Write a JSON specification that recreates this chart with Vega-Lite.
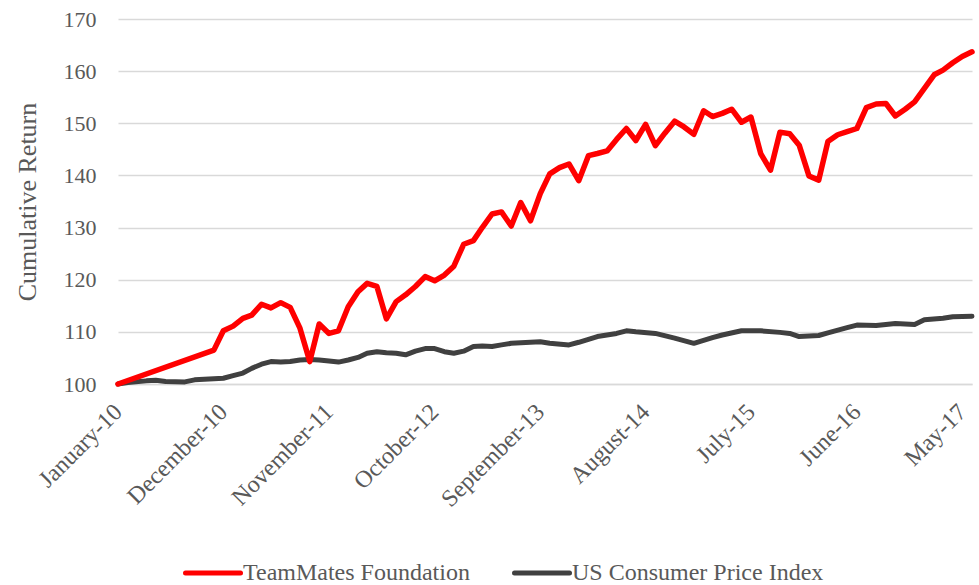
{
  "$schema": "https://vega.github.io/schema/vega-lite/v6.json",
  "width": 854,
  "height": 365,
  "autosize": "none",
  "padding": {"left": 118, "top": 19, "right": 7, "bottom": 201},
  "background": "white",
  "config": {
    "view": {"stroke": null},
    "font": "'Liberation Serif', 'Times New Roman', serif",
    "legend": {"labelFont": "'Liberation Serif', 'Times New Roman', serif", "labelFontSize": 24, "labelColor": "#595959"}
  },
  "datasets": {
    "fund": [
      {"date": "2010-01-01", "value": 100.0},
      {"date": "2010-11-01", "value": 106.5},
      {"date": "2010-12-01", "value": 110.2},
      {"date": "2011-01-01", "value": 111.1},
      {"date": "2011-02-01", "value": 112.6},
      {"date": "2011-03-01", "value": 113.2},
      {"date": "2011-04-01", "value": 115.3},
      {"date": "2011-05-01", "value": 114.6},
      {"date": "2011-06-01", "value": 115.6},
      {"date": "2011-07-01", "value": 114.7},
      {"date": "2011-08-01", "value": 110.7},
      {"date": "2011-09-01", "value": 104.3},
      {"date": "2011-10-01", "value": 111.5},
      {"date": "2011-11-01", "value": 109.7},
      {"date": "2011-12-01", "value": 110.2},
      {"date": "2012-01-01", "value": 114.8},
      {"date": "2012-02-01", "value": 117.7},
      {"date": "2012-03-01", "value": 119.3},
      {"date": "2012-04-01", "value": 118.7},
      {"date": "2012-05-01", "value": 112.5},
      {"date": "2012-06-01", "value": 115.8},
      {"date": "2012-07-01", "value": 117.1},
      {"date": "2012-08-01", "value": 118.7},
      {"date": "2012-09-01", "value": 120.6},
      {"date": "2012-10-01", "value": 119.8},
      {"date": "2012-11-01", "value": 120.9},
      {"date": "2012-12-01", "value": 122.6},
      {"date": "2013-01-01", "value": 126.8},
      {"date": "2013-02-01", "value": 127.5},
      {"date": "2013-03-01", "value": 130.0},
      {"date": "2013-04-01", "value": 132.6},
      {"date": "2013-05-01", "value": 133.0},
      {"date": "2013-06-01", "value": 130.3},
      {"date": "2013-07-01", "value": 134.8},
      {"date": "2013-08-01", "value": 131.3},
      {"date": "2013-09-01", "value": 136.5},
      {"date": "2013-10-01", "value": 140.3},
      {"date": "2013-11-01", "value": 141.5},
      {"date": "2013-12-01", "value": 142.2},
      {"date": "2014-01-01", "value": 139.0},
      {"date": "2014-02-01", "value": 143.8},
      {"date": "2014-03-01", "value": 144.2},
      {"date": "2014-04-01", "value": 144.7},
      {"date": "2014-05-01", "value": 146.9},
      {"date": "2014-06-01", "value": 149.0},
      {"date": "2014-07-01", "value": 146.7},
      {"date": "2014-08-01", "value": 149.8},
      {"date": "2014-09-01", "value": 145.7},
      {"date": "2014-10-01", "value": 148.1},
      {"date": "2014-11-01", "value": 150.4},
      {"date": "2014-12-01", "value": 149.3},
      {"date": "2015-01-01", "value": 147.9},
      {"date": "2015-02-01", "value": 152.4},
      {"date": "2015-03-01", "value": 151.3},
      {"date": "2015-04-01", "value": 151.9},
      {"date": "2015-05-01", "value": 152.7},
      {"date": "2015-06-01", "value": 150.2},
      {"date": "2015-07-01", "value": 151.2},
      {"date": "2015-08-01", "value": 144.2},
      {"date": "2015-09-01", "value": 141.0},
      {"date": "2015-10-01", "value": 148.3},
      {"date": "2015-11-01", "value": 148.0},
      {"date": "2015-12-01", "value": 145.8},
      {"date": "2016-01-01", "value": 139.9},
      {"date": "2016-02-01", "value": 139.1},
      {"date": "2016-03-01", "value": 146.5},
      {"date": "2016-04-01", "value": 147.8},
      {"date": "2016-05-01", "value": 148.4},
      {"date": "2016-06-01", "value": 149.0},
      {"date": "2016-07-01", "value": 153.0},
      {"date": "2016-08-01", "value": 153.7},
      {"date": "2016-09-01", "value": 153.8},
      {"date": "2016-10-01", "value": 151.4},
      {"date": "2016-11-01", "value": 152.7},
      {"date": "2016-12-01", "value": 154.1},
      {"date": "2017-01-01", "value": 156.7},
      {"date": "2017-02-01", "value": 159.3},
      {"date": "2017-03-01", "value": 160.2},
      {"date": "2017-04-01", "value": 161.6},
      {"date": "2017-05-01", "value": 162.8},
      {"date": "2017-06-01", "value": 163.7}
    ],
    "cpi": [
      {"date": "2010-01-01", "value": 100.0},
      {"date": "2010-02-01", "value": 100.3},
      {"date": "2010-04-01", "value": 100.6},
      {"date": "2010-05-01", "value": 100.7},
      {"date": "2010-06-01", "value": 100.5},
      {"date": "2010-08-01", "value": 100.4},
      {"date": "2010-09-01", "value": 100.8},
      {"date": "2010-11-01", "value": 101.0},
      {"date": "2010-12-01", "value": 101.1},
      {"date": "2011-01-01", "value": 101.6},
      {"date": "2011-02-01", "value": 102.1},
      {"date": "2011-03-01", "value": 103.0},
      {"date": "2011-04-01", "value": 103.8},
      {"date": "2011-05-01", "value": 104.3},
      {"date": "2011-06-01", "value": 104.2},
      {"date": "2011-07-01", "value": 104.3},
      {"date": "2011-08-01", "value": 104.6},
      {"date": "2011-09-01", "value": 104.7},
      {"date": "2011-10-01", "value": 104.6},
      {"date": "2011-11-01", "value": 104.4},
      {"date": "2011-12-01", "value": 104.2},
      {"date": "2012-01-01", "value": 104.6},
      {"date": "2012-02-01", "value": 105.1},
      {"date": "2012-03-01", "value": 105.9},
      {"date": "2012-04-01", "value": 106.2},
      {"date": "2012-05-01", "value": 106.0},
      {"date": "2012-06-01", "value": 105.9},
      {"date": "2012-07-01", "value": 105.6},
      {"date": "2012-08-01", "value": 106.3},
      {"date": "2012-09-01", "value": 106.8},
      {"date": "2012-10-01", "value": 106.8},
      {"date": "2012-11-01", "value": 106.2},
      {"date": "2012-12-01", "value": 105.9},
      {"date": "2013-01-01", "value": 106.3},
      {"date": "2013-02-01", "value": 107.2},
      {"date": "2013-03-01", "value": 107.3},
      {"date": "2013-04-01", "value": 107.2},
      {"date": "2013-05-01", "value": 107.5},
      {"date": "2013-06-01", "value": 107.8},
      {"date": "2013-08-01", "value": 108.0},
      {"date": "2013-09-01", "value": 108.1},
      {"date": "2013-10-01", "value": 107.8},
      {"date": "2013-12-01", "value": 107.5},
      {"date": "2014-01-01", "value": 108.0},
      {"date": "2014-03-01", "value": 109.1},
      {"date": "2014-05-01", "value": 109.7},
      {"date": "2014-06-01", "value": 110.2},
      {"date": "2014-07-01", "value": 110.0},
      {"date": "2014-09-01", "value": 109.7},
      {"date": "2014-11-01", "value": 108.8},
      {"date": "2015-01-01", "value": 107.8},
      {"date": "2015-03-01", "value": 108.9},
      {"date": "2015-04-01", "value": 109.4},
      {"date": "2015-06-01", "value": 110.2},
      {"date": "2015-08-01", "value": 110.2},
      {"date": "2015-10-01", "value": 109.9},
      {"date": "2015-11-01", "value": 109.7},
      {"date": "2015-12-01", "value": 109.1},
      {"date": "2016-02-01", "value": 109.3},
      {"date": "2016-03-01", "value": 109.8},
      {"date": "2016-05-01", "value": 110.8},
      {"date": "2016-06-01", "value": 111.3},
      {"date": "2016-08-01", "value": 111.2},
      {"date": "2016-09-01", "value": 111.4},
      {"date": "2016-10-01", "value": 111.6},
      {"date": "2016-12-01", "value": 111.4},
      {"date": "2017-01-01", "value": 112.3},
      {"date": "2017-03-01", "value": 112.6},
      {"date": "2017-04-01", "value": 112.9},
      {"date": "2017-06-01", "value": 113.0}
    ]
  },
  "encoding": {
    "x": {
      "field": "date",
      "type": "temporal",
      "scale": {
        "type": "utc",
        "domain": [
          {"year": 2010, "month": 1, "date": 1, "utc": true},
          {"year": 2017, "month": 6, "date": 1, "utc": true}
        ]
      },
      "axis": {
        "title": null,
        "values": [
          {"year": 2010, "month": 1, "date": 1, "utc": true},
          {"year": 2010, "month": 12, "date": 1, "utc": true},
          {"year": 2011, "month": 11, "date": 1, "utc": true},
          {"year": 2012, "month": 10, "date": 1, "utc": true},
          {"year": 2013, "month": 9, "date": 1, "utc": true},
          {"year": 2014, "month": 8, "date": 1, "utc": true},
          {"year": 2015, "month": 7, "date": 1, "utc": true},
          {"year": 2016, "month": 6, "date": 1, "utc": true},
          {"year": 2017, "month": 5, "date": 1, "utc": true}
        ],
        "labelExpr": "utcFormat(datum.value, '%B-%y')",
        "labelAngle": -45,
        "labelAlign": "right",
        "labelBaseline": "middle",
        "labelFont": "'Liberation Serif', 'Times New Roman', serif",
        "labelFontSize": 24,
        "labelColor": "#595959",
        "labelPadding": 24,
        "labelOverlap": false,
        "labelFlush": false,
        "labelBound": false,
        "ticks": false,
        "grid": false,
        "domain": true,
        "domainColor": "#d9d9d9",
        "domainWidth": 1.5
      }
    },
    "y": {
      "field": "value",
      "type": "quantitative",
      "scale": {"domain": [100, 170], "nice": false, "zero": false},
      "axis": {
        "title": "Cumulative Return",
        "titleFont": "'Liberation Serif', 'Times New Roman', serif",
        "titleFontSize": 26,
        "titleFontWeight": "normal",
        "titleColor": "#595959",
        "titlePadding": 23,
        "values": [100, 110, 120, 130, 140, 150, 160, 170],
        "labelFont": "'Liberation Serif', 'Times New Roman', serif",
        "labelFontSize": 22,
        "labelColor": "#595959",
        "labelPadding": 22,
        "ticks": false,
        "domain": false,
        "grid": true,
        "gridColor": "#d9d9d9",
        "gridWidth": 1.5
      }
    },
    "color": {
      "field": "series",
      "type": "nominal",
      "scale": {
        "domain": ["TeamMates Foundation", "US Consumer Price Index"],
        "range": ["#ff0000", "#404040"]
      },
      "legend": {
        "title": null,
        "orient": "none",
        "direction": "horizontal",
        "legendX": 65,
        "legendY": 524,
        "symbolType": "stroke",
        "symbolSize": 3025,
        "symbolStrokeWidth": 5,
        "labelFont": "'Liberation Serif', 'Times New Roman', serif",
        "labelFontSize": 24,
        "labelColor": "#595959",
        "labelOffset": 0,
        "columnPadding": 34,
        "labelLimit": 400,
        "encode": {
          "symbols": {"update": {"strokeCap": {"value": "round"}}}
        }
      }
    }
  },
  "layer": [
    {
      "data": {"name": "cpi"},
      "transform": [{"calculate": "'US Consumer Price Index'", "as": "series"}],
      "mark": {"type": "line", "strokeWidth": 5, "strokeCap": "round", "strokeJoin": "round"}
    },
    {
      "data": {"name": "fund"},
      "transform": [{"calculate": "'TeamMates Foundation'", "as": "series"}],
      "mark": {"type": "line", "strokeWidth": 5.5, "strokeCap": "round", "strokeJoin": "round"}
    }
  ]
}
